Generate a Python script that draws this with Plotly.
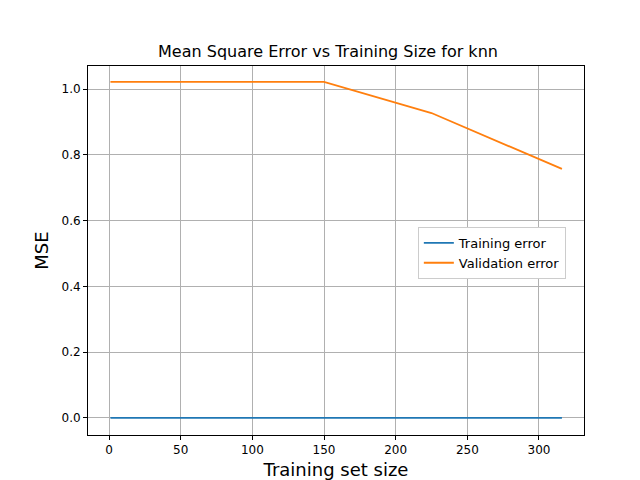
import plotly.graph_objects as go

train_sizes = [1, 75, 150, 225, 316]
train_error = [0.0, 0.0, 0.0, 0.0, 0.0]
val_error = [1.022, 1.022, 1.022, 0.927, 0.757]

fig = go.Figure()
fig.add_trace(go.Scatter(x=train_sizes, y=train_error, mode='lines', name='Training error',
                         line=dict(color='#1f77b4', width=1.8)))
fig.add_trace(go.Scatter(x=train_sizes, y=val_error, mode='lines', name='Validation error',
                         line=dict(color='#ff7f0e', width=1.8)))

axis_common = dict(showline=True, linecolor='black', mirror=True, ticks='outside',
                   ticklen=4, tickcolor='black', showgrid=True, gridcolor='#b0b0b0',
                   zeroline=False, automargin=False, tickfont=dict(size=12, color='black'))

fig.update_layout(
    width=640, height=480,
    paper_bgcolor='white', plot_bgcolor='white',
    font=dict(family='DejaVu Sans', color='black'),
    title=dict(text='Mean Square Error vs Training Size for knn', x=0.5, xanchor='center',
               y=0.91, yanchor='middle', font=dict(size=16)),
    margin=dict(l=80, r=64, t=58, b=53),
    showlegend=True,
    legend=dict(x=0.665, y=0.564, xanchor='left', yanchor='top', bgcolor='white',
                bordercolor='#cccccc', borderwidth=1, font=dict(size=13)),
    xaxis=dict(range=[-14.65, 331.4], tickvals=[0, 50, 100, 150, 200, 250, 300],
               title=dict(text='Training set size', font=dict(size=18), standoff=6), **axis_common),
    yaxis=dict(range=[-0.052, 1.07], tickvals=[0, 0.2, 0.4, 0.6, 0.8, 1.0], tickformat='.1f',
               title=dict(text='MSE', font=dict(size=18), standoff=8), **axis_common),
)

fig.write_html("out.html")
